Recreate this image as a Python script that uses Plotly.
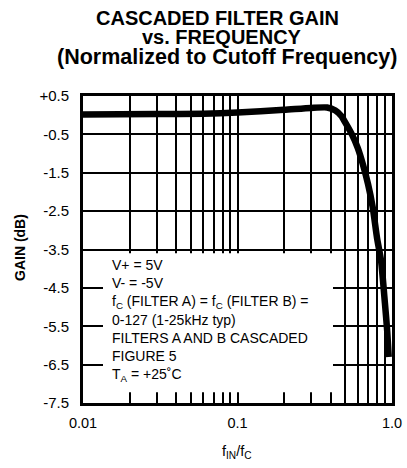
import plotly.graph_objects as go

# Data
freq_ratio = [0.01, 0.03, 0.06, 0.1, 0.2, 0.3, 0.38, 0.43, 0.47, 0.5, 0.55, 0.6,
              0.65, 0.7, 0.75, 0.8, 0.85, 0.9, 0.93, 0.952]
gain_db = [0.02, 0.03, 0.04, 0.07, 0.14, 0.19, 0.2, 0.12, -0.02, -0.2, -0.5, -0.85,
           -1.3, -1.8, -2.4, -3.2, -3.8, -4.9, -5.6, -6.3]

x_tickvals = [0.01, 0.02, 0.03, 0.04, 0.05, 0.06, 0.07, 0.08, 0.09,
              0.1, 0.2, 0.3, 0.4, 0.5, 0.6, 0.7, 0.8, 0.9, 1.0]
x_ticktext = ["0.01", "", "", "", "", "", "", "", "",
              "0.1", "", "", "", "", "", "", "", "", "1.0"]
y_tickvals = [0.5, -0.5, -1.5, -2.5, -3.5, -4.5, -5.5, -6.5, -7.5]
y_ticktext = ["+0.5", "-0.5", "-1.5", "-2.5", "-3.5", "-4.5", "-5.5", "-6.5", "-7.5"]

title_lines = ["CASCADED FILTER GAIN", "vs. FREQUENCY", "(Normalized to Cutoff Frequency)"]
note_lines = ["V+ = 5V", "V- = -5V",
              "f<sub>C</sub> (FILTER A) = f<sub>C</sub> (FILTER B) =",
              "0-127 (1-25kHz typ)", "FILTERS A AND B CASCADED",
              "FIGURE 5", "T<sub>A</sub> = +25\u02daC"]

FONT = "Liberation Sans, Arial, sans-serif"

W, H = 407, 468
PL, PR, PT, PB = 83, 392, 96, 403          # plot box in pixels
pw, ph = PR - PL, PB - PT
L, T = PL, PT
R, B = W - L - pw, H - T - ph

def px(x_px):
    return (x_px - PL) / pw

def py(y_px):
    return 1 + (PT - y_px) / ph

fig = go.Figure()
fig.add_trace(go.Scatter(x=freq_ratio, y=gain_db, mode="lines",
                         line=dict(color="black", width=6.5, shape="spline", smoothing=0.6),
                         showlegend=False, hoverinfo="skip"))

fig.update_layout(
    width=W, height=H,
    margin=dict(l=L, r=R, t=T, b=B, autoexpand=False),
    paper_bgcolor="white", plot_bgcolor="white",
    font=dict(family=FONT, color="black", size=15),
    xaxis=dict(type="log", range=[-2, 0], tickmode="array",
               tickvals=x_tickvals, ticktext=x_ticktext,
               showgrid=True, gridcolor="black", gridwidth=1.6,
               showline=True, linecolor="black", linewidth=3, mirror=True,
               ticks="", ticklabelstandoff=5, zeroline=False, automargin=False,
               tickfont=dict(size=14.5)),
    yaxis=dict(range=[-7.5, 0.5], tickmode="array",
               tickvals=y_tickvals, ticktext=y_ticktext,
               showgrid=True, gridcolor="black", gridwidth=1.6,
               showline=True, linecolor="black", linewidth=3, mirror=True,
               ticks="", ticklabelstandoff=8, zeroline=False, automargin=False,
               tickfont=dict(size=15)),
)

# White box behind the condition text (hides grid)
fig.add_shape(type="rect", xref="paper", yref="y",
              x0=px(103), x1=px(333), y0=-7.22, y1=-3.6,
              fillcolor="white", line=dict(width=0), layer="above")

# Title
title_y = [17.5, 37, 57]
title_sizes = [20, 20, 21.5]
title_x = [217, 222, 227]
for txt, ypx, sz, xpx in zip(title_lines, title_y, title_sizes, title_x):
    fig.add_annotation(text="<b>" + txt + "</b>", xref="paper", yref="paper",
                       x=px(xpx), y=py(ypx), xanchor="center", yanchor="middle",
                       showarrow=False, font=dict(size=sz, family=FONT, color="black"))

# Axis titles
fig.add_annotation(text="<b>GAIN (dB)</b>", xref="paper", yref="paper",
                   x=px(20), y=py(248), xanchor="center", yanchor="middle",
                   textangle=-90, showarrow=False, font=dict(size=14, family=FONT))
fig.add_annotation(text="f<sub>IN</sub>/f<sub>C</sub>", xref="paper", yref="paper",
                   x=px(237), y=py(452), xanchor="center", yanchor="middle",
                   showarrow=False, font=dict(size=14.5, family=FONT))

# Conditions text
fig.add_annotation(text="<br>".join(note_lines), xref="paper", yref="paper",
                   x=px(110), y=py(320), xanchor="left", yanchor="middle",
                   align="left", showarrow=False, font=dict(size=14, family=FONT))

fig.write_html("out.html", config={"displayModeBar": False},
               post_script="document.body.style.margin='0';document.body.style.overflow='hidden';")
